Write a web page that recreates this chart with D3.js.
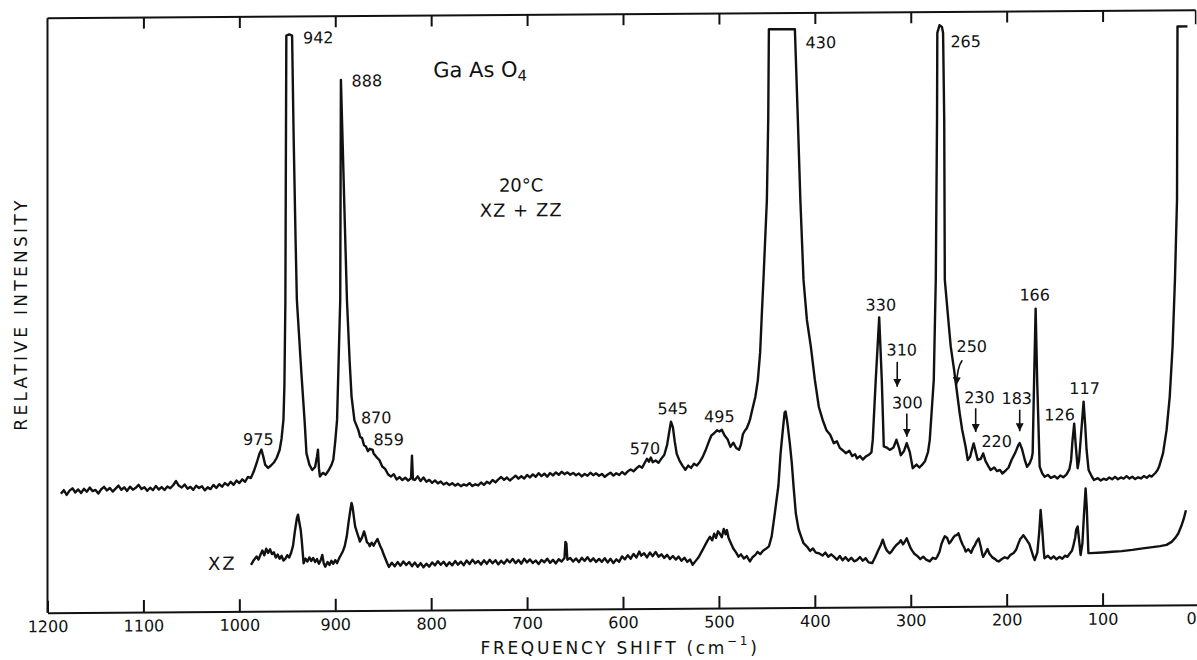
<!DOCTYPE html>
<html>
<head>
<meta charset="utf-8">
<script src="https://cdn.jsdelivr.net/npm/d3@7"></script>
<style>
  body { margin: 0; background: #fff; }
  svg text { font-family: "DejaVu Sans", sans-serif; fill: #111; }
</style>
</head>
<body>
<div id="chart"></div>
<script>
// XZ + ZZ spectrum, [frequency shift cm-1, relative intensity]
const xzzzSpectrum = [
  [1186,20.0],[1183,20.6],[1180,19.8],[1177,20.5],[1174,20.9],[1171,20.2],[1168,20.7],[1165,20.1],[1162,20.8],[1159,20.3],
  [1156,21.0],[1153,20.4],[1150,20.6],[1147,20.0],[1144,20.7],[1141,21.1],[1138,20.5],[1135,20.9],[1132,20.3],[1129,20.8],
  [1126,21.3],[1123,20.6],[1120,21.0],[1117,20.4],[1114,21.1],[1111,20.6],[1108,20.9],[1105,21.4],[1102,20.7],[1099,21.0],
  [1096,20.4],[1093,20.9],[1090,20.5],[1087,21.2],[1084,20.6],[1081,21.0],[1078,20.5],[1075,21.1],[1072,20.8],[1069,21.3],
  [1066,22.0],[1063,21.2],[1060,20.9],[1057,21.4],[1054,20.7],[1051,21.0],[1048,20.5],[1045,21.2],[1042,20.8],[1039,21.1],
  [1036,20.4],[1033,20.9],[1030,20.6],[1027,21.3],[1024,20.8],[1021,21.4],[1018,21.0],[1015,21.6],[1012,21.2],[1009,21.8],
  [1006,21.3],[1003,22.0],[1000,21.6],[997,22.2],[994,21.8],[991,22.6],[988,22.4],[985,23.5],[982,24.9],[979,26.5],
  [977,27.2],[975,26.0],[973,24.6],[970,24.1],[967,24.5],[964,25.0],[961,25.8],[958,27.1],[956,29.0],[954,32.2],
  [953,38],[952,52],[951.5,75],[951,96.8],[948,97.0],[945,96.8],[943.4,80],[941.3,62],[940,52.3],[935.3,40],
  [932,32.1],[930,26.5],[927,24.6],[924,23.7],[921,24.2],[919,26.0],[918,27.1],[917,24.0],[916,22.6],[913,23.2],
  [910,22.9],[907,23.6],[904,24.5],[902,25.4],[900,28.5],[898.1,32.1],[896.5,42],[894.8,52.3],[894.1,89.3],[892,77],
  [890,65],[887.8,52.2],[885,42],[883,36],[880,32.0],[878,31.2],[876,30.4],[874,29.2],[872,29.0],[870,27.8],
  [868,27.6],[866,26.8],[864,27.2],[861,27.0],[860,26.4],[857,25.8],[854,25.3],[851,24.2],[848,23.8],[845,22.9],
  [842,22.5],[839,22.9],[836,22.0],[833,22.4],[830,21.9],[827,22.3],[824,21.8],[821,22.2],[820,26.0],[819,22.0],
  [817,21.9],[814,22.5],[811,21.7],[808,22.3],[805,21.6],[802,21.9],[799,21.4],[796,21.8],[793,21.3],[790,21.6],
  [787,21.1],[784,21.4],[781,21.0],[778,21.3],[775,20.9],[772,21.2],[769,20.8],[766,21.1],[763,20.9],[760,21.3],
  [757,20.8],[754,21.1],[751,20.9],[748,21.4],[745,21.0],[742,21.5],[739,21.2],[736,21.8],[733,21.4],[730,21.9],
  [727,22.3],[724,21.8],[721,22.2],[718,21.7],[715,22.1],[712,22.5],[709,22.0],[706,22.4],[703,22.0],[700,22.6],
  [697,22.2],[694,22.7],[691,22.3],[688,22.9],[685,22.4],[682,22.8],[679,22.3],[676,22.9],[673,22.5],[670,23.0],
  [667,22.6],[664,23.1],[661,22.7],[658,23.0],[655,22.6],[652,22.9],[649,22.5],[646,22.8],[643,22.3],[640,22.7],
  [637,22.4],[634,22.9],[631,22.5],[628,22.8],[625,22.4],[622,22.7],[619,22.2],[616,22.6],[613,22.9],[610,22.4],
  [607,22.8],[604,22.5],[601,23.0],[598,22.6],[595,23.1],[592,23.4],[589,23.1],[586,23.6],[583,24.0],[580,23.7],
  [577,24.6],[575,25.2],[573,24.7],[571,25.4],[569,24.6],[566,24.9],[563,24.5],[560,25.2],[557,25.8],[554,27.5],
  [552,29.5],[550,31.4],[548,30.5],[546,28.0],[544,26.0],[541,24.8],[538,24.0],[535,23.3],[532,24.0],[529,23.6],
  [526,24.3],[523,24.0],[520,24.6],[517,25.4],[514,26.5],[511,27.8],[508,29.0],[505,29.4],[502,29.9],[499.5,29.7],
  [497,30.0],[494,29.0],[491,28.4],[488,27.1],[485,27.8],[482,26.9],[479,26.6],[477,27.5],[475,29.2],[473,29.8],
  [471,30.2],[469,31.0],[467.7,31.6],[465,33.5],[462,35.5],[459.4,38.3],[457,43],[455.2,49.6],[453.6,55.1],[450.0,68.6],
  [448.6,82],[447.9,97.3],[420.8,97.3],[417.7,82],[415.1,68.6],[411.8,55.1],[408.3,48.4],[404.2,43.9],[400,38.3],[395.8,33.7],
  [392,31.6],[387.9,29.8],[384,29.0],[380.2,27.6],[377,27.9],[374,26.8],[371,26.4],[367.7,25.9],[364,26.3],[361,25.4],
  [358,25.7],[356,25.0],[353,25.4],[350,24.8],[347,25.3],[343.7,25.6],[341,26.0],[339.6,28.1],[336.5,38.2],[332.9,48.7],
  [330.2,38.2],[328.1,27.0],[325,26.8],[321.9,26.4],[318,26.8],[314.9,28.1],[312,26.6],[310.4,25.5],[307,26.2],[304.2,27.5],
  [301,26.0],[297.9,23.3],[294,23.9],[291,23.4],[288.5,23.8],[285,24.5],[282,26.0],[280.2,28.0],[276,38.1],[273.9,55.0],
  [272.6,82],[272.3,96.5],[270,97.8],[267.5,97.5],[266.3,96.5],[265.1,82],[264.5,55.0],[261,48.5],[258.3,43.7],[255,40],
  [252.1,36.4],[249,32.5],[246.4,29.7],[243,27.0],[240.6,24.6],[238,25.2],[236,26.5],[234.4,27.4],[232,25.8],[230.2,24.6],
  [227,24.8],[224.5,25.7],[222,24.4],[219,23.5],[216.7,22.9],[213,23.3],[210,22.7],[207,22.9],[204.5,22.3],[201,22.8],
  [198,23.3],[194.8,24.6],[191,25.8],[188,27.0],[186.5,27.4],[184,26.4],[181,24.5],[178.7,23.4],[176,24.0],[174,24.8],
  [172.9,25.7],[171.4,37.9],[169.8,50.0],[168.2,37.9],[165.6,23.4],[163,22.3],[160.4,21.7],[157,22.0],[154,21.5],[150,21.8],
  [147,21.4],[144,21.9],[141,21.6],[138,22.0],[136.7,22.3],[134.5,23.0],[132.8,24.5],[131.5,27.5],[129.6,30.6],[128,27],
  [126.0,23.1],[124.5,24.5],[122.9,27.8],[119.8,34.3],[118,30],[116.7,26.2],[114.6,22.8],[111,21.6],[108.9,21.1],[105,21.4],
  [102,21.0],[99,21.3],[96,21.1],[93,21.5],[90,21.2],[87,21.6],[84,21.2],[81,21.5],[78,21.3],[75,21.7],
  [72,21.3],[69,21.6],[66,21.2],[63,21.5],[60,21.3],[57,21.7],[54,21.4],[51,21.8],[48.9,21.6],[45,22.2],
  [43,22.6],[41,23.3],[37,25.5],[33.3,29.4],[30,35],[27,43.5],[24.5,55],[22.4,68.1],[21.9,97.3],[11.5,97.3]
];

// XZ spectrum
const xzSpectrum = [
  [987.8,7.8],[985,8.6],[982,9.2],[980,8.7],[978,9.5],[976,10.2],[974,9.4],[972,10.5],[970,9.8],[968,10.4],
  [966,9.6],[964,9.9],[962,9.0],[960,9.5],[958,8.8],[956,9.3],[954,8.5],[952,8.8],[950,9.4],[948,9.0],
  [946,9.8],[944,11.0],[942,13.5],[940,15.6],[938.8,16.2],[937,14.5],[936,13.6],[935,12.0],[933,8.0],[931,8.8],
  [929,8.3],[927,9.0],[925,8.4],[923,8.9],[921,8.2],[919,8.7],[917,7.9],[915,8.6],[913.5,9.4],[912,8.0],
  [910.4,7.4],[908,8.2],[906,7.7],[904,8.4],[902,7.9],[900,8.5],[898.1,8.0],[896,8.8],[894,9.4],[892,10.0],
  [890.2,10.8],[888,12.5],[886,15.0],[884,17.2],[883,18.1],[882,17.5],[880,15.0],[879.2,14.1],[877,13.0],[875,12.0],
  [874.3,11.6],[872,12.3],[870,13.3],[869,12.8],[867,11.5],[865,11.2],[864,10.8],[862,11.4],[860,10.9],[858,11.5],
  [856,12.0],[855,11.6],[853,10.8],[851,10.1],[850,9.6],[848,8.8],[846,8.0],[844,7.3],[841,8.0],[838,7.4],
  [835,8.1],[832,7.5],[829,8.2],[826,7.6],[823,8.1],[820,7.4],[817,8.0],[814,7.3],[811,7.9],[808,7.2],
  [805,7.8],[802,7.3],[799,8.0],[796,7.5],[793,8.2],[790,7.6],[787,8.1],[784,7.4],[781,8.0],[778,7.5],
  [775,8.2],[772,7.6],[769,8.1],[766,7.5],[763,8.3],[760,7.7],[757,8.4],[754,7.8],[751,8.2],[748,7.6],
  [745,8.3],[742,7.7],[739,8.4],[736,7.8],[733,8.3],[730,7.6],[727,8.2],[724,7.7],[721,8.4],[718,7.9],
  [715,8.5],[712,7.8],[709,8.3],[706,7.7],[703,8.5],[700,7.9],[697,8.4],[694,7.8],[691,8.2],[688,7.6],
  [685,8.3],[682,7.9],[679,8.5],[676,7.8],[673,8.3],[670,7.7],[667,8.4],[664,8.0],[661,8.6],[660,11.3],
  [659,11.0],[658,8.3],[655,8.6],[652,8.0],[649,8.5],[646,7.9],[643,8.6],[640,8.1],[637,8.7],[634,8.0],
  [631,8.5],[628,7.9],[625,8.4],[622,7.9],[619,8.5],[616,7.8],[613,8.4],[610,7.7],[607,8.3],[604,7.9],
  [601,8.8],[598,8.3],[595,9.0],[592,8.4],[589,9.2],[586,8.6],[583,9.6],[581,8.9],[578,9.3],[575,8.6],
  [572,9.4],[569,8.8],[566,9.5],[563,8.7],[560,9.1],[557,8.5],[554,9.0],[551,8.3],[548,8.8],[545,8.2],
  [542,8.7],[539,8.0],[536,8.5],[533,7.8],[530,8.2],[527.4,7.3],[524,8.0],[521,8.6],[518,9.5],[515,10.4],
  [512,11.3],[509.4,12.0],[507,11.4],[505,12.5],[503,11.8],[501,12.9],[499.5,12.6],[497,11.9],[495,13.3],[493,12.4],
  [491.7,13.1],[490,11.8],[487.5,10.9],[485,10.0],[482,9.3],[479.6,8.6],[477,9.0],[474,8.3],[471,8.7],[467.7,7.8],
  [465,8.5],[462,8.9],[459.7,9.4],[457,9.0],[454,9.6],[451,9.9],[447.9,10.3],[445,12.0],[441.7,15.9],[438,20.5],
  [435.7,26.0],[433,30.5],[431.5,32.8],[430.5,33.0],[429,31.5],[428.1,30.4],[426,27.5],[424,24.3],[422,20.0],[419.8,15.8],
  [417,13.2],[414,11.8],[411.8,10.8],[408,10.2],[405,9.5],[402,9.9],[399,9.2],[395.8,9.1],[392,8.7],[389,9.2],
  [386,8.5],[383,8.9],[380.2,8.5],[377,8.0],[374,8.6],[371,7.9],[368,8.4],[365,7.8],[362,8.3],[359,7.7],
  [356.2,7.9],[353,8.4],[350,7.8],[347,8.2],[344,7.5],[340.1,7.4],[337,8.4],[334,9.5],[331,10.5],[329.2,11.3],
  [327,10.2],[325,9.5],[322,9.0],[320.1,9.3],[318,9.8],[315,10.4],[312,10.8],[310.4,11.2],[308,10.5],[306,11.0],
  [304.2,11.5],[302,10.6],[300,9.8],[298,9.3],[296.2,8.9],[293,8.5],[290,8.0],[287,8.4],[284,7.9],[280.2,7.6],
  [277,8.2],[274,8.0],[272.3,8.4],[270,9.2],[268,10.5],[266,11.3],[264.5,11.8],[262,11.5],[260,10.6],[258.3,10.9],
  [256,11.5],[254,11.9],[252,12.0],[250.3,12.3],[248,11.2],[246,10.4],[244,9.8],[242.7,9.2],[240,9.6],[237,9.0],
  [235,9.8],[233,10.3],[231,11.0],[229.2,11.4],[227,10.0],[225.5,8.8],[224.5,8.3],[222,9.0],[220,9.6],[218,8.8],
  [215,8.2],[212,7.9],[210,7.6],[208.3,7.5],[205,7.9],[202,8.2],[199,8.0],[196,8.6],[192.7,8.9],[190,9.5],
  [188,10.4],[186,11.2],[184,11.6],[182.6,11.9],[180,11.3],[178,10.8],[176.6,10.5],[174,9.2],[172,8.2],[170.8,7.7],
  [168,9.0],[166,12.5],[164.6,16.1],[163,13.0],[161.5,9.5],[160.6,8.0],[157,8.4],[154,7.9],[151,8.3],[148,7.8],
  [145,8.2],[142,7.9],[139,8.4],[136.7,8.2],[134,8.8],[132,9.2],[130.7,9.9],[128.5,11.5],[127.5,12.8],[126,13.3],
  [124.5,11.0],[122.9,8.5],[121,10.5],[119.5,15.0],[117.7,19.7],[116.5,16.5],[115.5,12.0],[114.8,8.8],[112.8,8.8],[100,8.9],
  [90,9.0],[80,9.1],[68.9,9.3],[60,9.5],[50,9.7],[40,9.9],[33.3,10.1],[28,10.6],[24,11.3],[21.1,12.0],
  [18,13.2],[15.5,14.4],[13.1,15.9]
];

const xTicks = [1200, 1100, 1000, 900, 800, 700, 600, 500, 400, 300, 200, 100, 0];

// peak labels: text, frequency, intensity (label centre)
const peakText = ["942", "888", "430", "265", "975", "870", "859", "570", "545", "495", "330", "310", "300", "250", "230", "220", "183", "166", "126", "117"];
const peakFreq = [917.7, 867.0, 393.7, 242.7, 980.2, 857.3, 844.3, 577.1, 548.1, 499.5, 331.2, 309.4, 303.5, 236.4, 228.4, 210.4, 189.5, 170.8, 144.8, 118.8];
const peakInt  = [96.4, 89.1, 95.0, 95.0, 28.9, 32.4, 28.7, 26.9, 33.6, 32.2, 50.8, 43.2, 34.3, 43.7, 35.1, 27.7, 34.9, 52.3, 32.1, 36.5];

// arrows: frequency, start intensity, end intensity
const arrowFreq  = [314.1, 304.1, 232.3, 186.4];
const arrowFrom  = [41.2, 32.5, 33.3, 33.0];
const arrowTo    = [37.0, 28.6, 29.3, 29.4];

const W = 1197, H = 660;
const margin = {left: 47.5, top: 18.3};
const plotW = 1151, plotH = 594.4;

const svg = d3.select("#chart").append("svg")
    .attr("width", W)
    .attr("height", H);

svg.append("defs").append("marker")
    .attr("id", "head")
    .attr("markerUnits", "userSpaceOnUse")
    .attr("viewBox", "0 0 10 10")
    .attr("refX", 10).attr("refY", 5)
    .attr("markerWidth", 8).attr("markerHeight", 8)
    .attr("orient", "auto")
    .append("path")
    .attr("d", "M0,0 L10,5 L0,10 Z")
    .attr("fill", "#111");

// the scan is slightly tilted: horizontal lines fall to the left
const g = svg.append("g")
    .attr("transform", "translate(" + margin.left + "," + margin.top + ") skewY(-0.4)");

const x = d3.scaleLinear().domain([1200, 0]).range([0, plotW]);
const y = d3.scaleLinear().domain([0, 100]).range([plotH, 0]);

// frame
g.append("line").attr("x1", 0).attr("x2", 0).attr("y1", 0).attr("y2", plotH)
    .attr("stroke", "#111").attr("stroke-width", 2);
g.append("line").attr("x1", 0).attr("x2", x(3)).attr("y1", 0).attr("y2", 0)
    .attr("stroke", "#111").attr("stroke-width", 2);
g.append("line").attr("x1", x(3)).attr("x2", x(3)).attr("y1", 0).attr("y2", 14)
    .attr("stroke", "#111").attr("stroke-width", 1.5);

const bottomAxis = g.append("g")
    .attr("class", "axis axis--x")
    .attr("transform", "translate(0," + plotH + ")")
    .call(d3.axisBottom(x).tickValues(xTicks).tickSize(-12).tickSizeOuter(0).tickPadding(8).tickFormat(d3.format("d")));
bottomAxis.select(".domain").attr("stroke", "#111").attr("stroke-width", 2);
bottomAxis.selectAll(".tick line").attr("stroke", "#111").attr("stroke-width", 2);
bottomAxis.selectAll(".tick text")
    .style("font-family", "DejaVu Sans")
    .style("font-size", "16px")
    .attr("fill", "#111");
// the last label sits at the page edge
bottomAxis.selectAll(".tick text").filter(function (d) { return d === 0; })
    .attr("text-anchor", "end").attr("dx", "-0.15em");

const topAxis = g.append("g")
    .attr("class", "axis axis--top")
    .call(d3.axisTop(x).tickValues(xTicks.slice(1, -1)).tickSize(-11).tickSizeOuter(0).tickFormat(""));
topAxis.select(".domain").remove();
topAxis.selectAll(".tick line").attr("stroke", "#111").attr("stroke-width", 2);

// spectra
const line = d3.line()
    .x(function (d) { return x(d[0]); })
    .y(function (d) { return y(d[1]); });

g.append("path")
    .datum(xzzzSpectrum)
    .attr("d", line)
    .attr("fill", "none")
    .attr("stroke", "#111")
    .attr("stroke-width", 2.4)
    .attr("stroke-linejoin", "round");

g.append("path")
    .datum(xzSpectrum)
    .attr("d", line)
    .attr("fill", "none")
    .attr("stroke", "#111")
    .attr("stroke-width", 2.4)
    .attr("stroke-linejoin", "round");

// peak labels
g.selectAll(".peak")
    .data(peakText)
    .enter().append("text")
    .attr("class", "peak")
    .attr("x", function (d, i) { return x(peakFreq[i]); })
    .attr("y", function (d, i) { return y(peakInt[i]); })
    .attr("text-anchor", "middle")
    .attr("dominant-baseline", "central")
    .style("font-size", "16px")
    .text(function (d) { return d; });

// straight arrows
g.selectAll(".arrow")
    .data(arrowFreq)
    .enter().append("line")
    .attr("class", "arrow")
    .attr("x1", function (d) { return x(d); })
    .attr("x2", function (d) { return x(d); })
    .attr("y1", function (d, i) { return y(arrowFrom[i]); })
    .attr("y2", function (d, i) { return y(arrowTo[i]); })
    .attr("stroke", "#111")
    .attr("stroke-width", 1.6)
    .attr("marker-end", "url(#head)");

// curved arrow for 250
g.append("path")
    .attr("d", "M" + x(246.3) + "," + y(41.4) + " Q" + x(251.5) + "," + y(40.3) + " " + x(252.4) + "," + y(37.2))
    .attr("fill", "none")
    .attr("stroke", "#111")
    .attr("stroke-width", 1.6)
    .attr("marker-end", "url(#head)");

// sample / condition labels
const title = g.append("text")
    .attr("x", x(748.9))
    .attr("y", y(90.8))
    .attr("text-anchor", "middle")
    .attr("dominant-baseline", "central")
    .style("font-size", "21px");
title.append("tspan").text("Ga As O");
title.append("tspan").attr("dy", 6).style("font-size", "15px").text("4");

g.append("text")
    .attr("x", x(706.2)).attr("y", y(71.4))
    .attr("text-anchor", "middle").attr("dominant-baseline", "central")
    .style("font-size", "18px")
    .text("20°C");
g.append("text")
    .attr("x", x(706.2)).attr("y", y(67.2))
    .attr("text-anchor", "middle").attr("dominant-baseline", "central")
    .style("font-size", "18px").style("letter-spacing", "1px")
    .text("XZ + ZZ");
g.append("text")
    .attr("x", x(1017.7)).attr("y", y(8.1))
    .attr("text-anchor", "middle").attr("dominant-baseline", "central")
    .style("font-size", "18px").style("letter-spacing", "2px")
    .text("XZ");

// axis titles
const xt = svg.append("text")
    .attr("x", 620)
    .attr("y", 648)
    .attr("text-anchor", "middle")
    .attr("dominant-baseline", "central")
    .style("font-size", "17px")
    .style("letter-spacing", "2.7px");
xt.append("tspan").text("FREQUENCY SHIFT (cm");
xt.append("tspan").attr("dy", -7).style("font-size", "12px").text("−1");
xt.append("tspan").attr("dy", 7).text(")");

svg.append("text")
    .attr("transform", "translate(21,314) rotate(-90)")
    .attr("text-anchor", "middle")
    .attr("dominant-baseline", "central")
    .style("font-size", "17px")
    .style("letter-spacing", "3.3px")
    .text("RELATIVE INTENSITY");
</script>
</body>
</html>
